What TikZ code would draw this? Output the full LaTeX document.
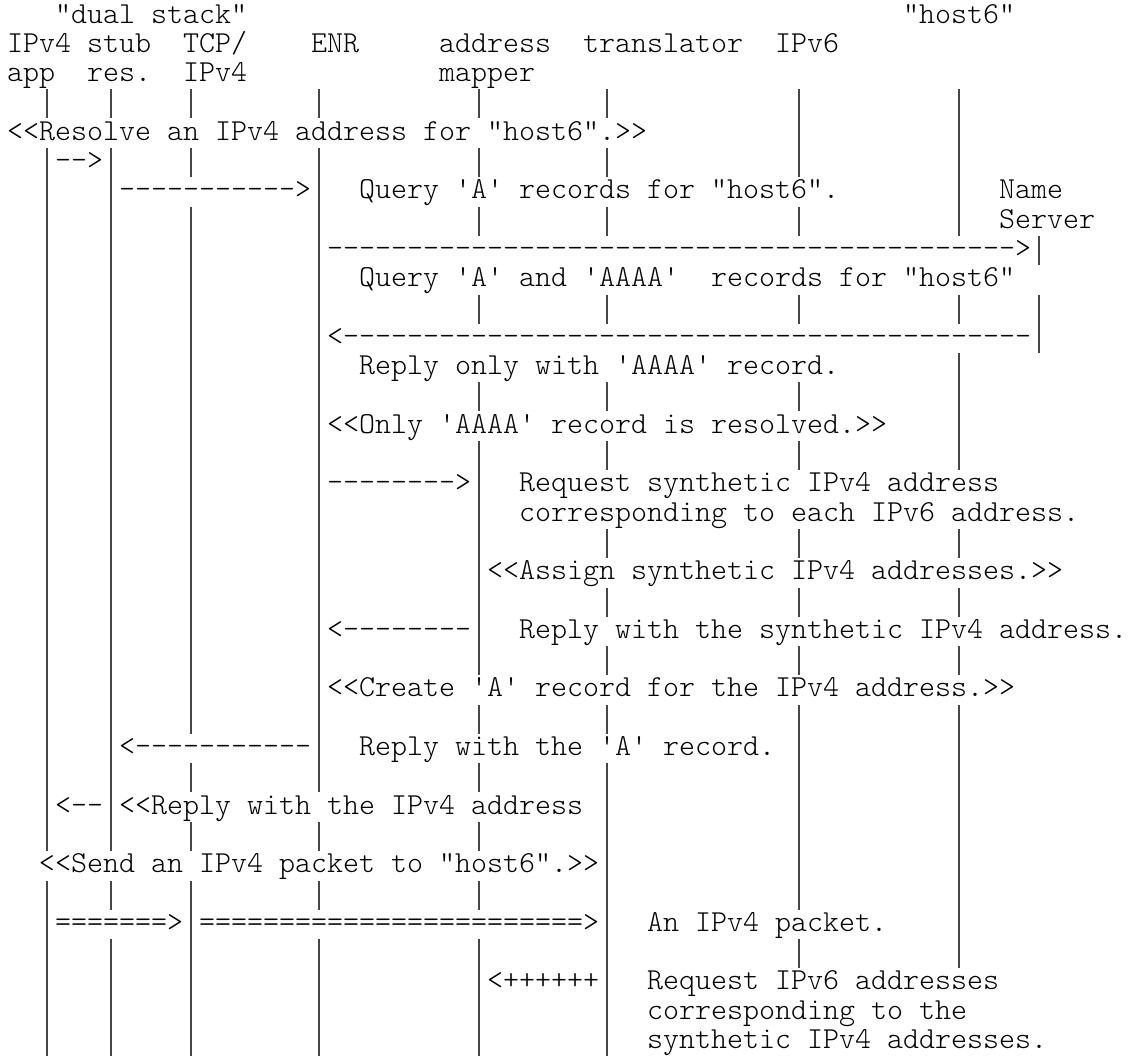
\documentclass[tikz,border=0pt]{standalone}
\usepackage{fontspec}
\newfontfamily\asciifont{lmmonolt10-regular.otf}
\frenchspacing
% grid: column width 16px, row pitch 29.3px, first baseline 23px, left edge 7px
\newcommand\rowtext[3]{\node[txt] (t#1c#2) at ({7+16*#2},{23+29.3*(#1-1)}) {#3};}
\tikzset{
  txt/.style={anchor=base west, inner sep=0pt, outer sep=0pt, text=black,
    font=\asciifont\fontsize{15.24pt}{18pt}\selectfont},
  life/.style={draw=black!72, line width=0.8pt}
}
\begin{document}
\begin{tikzpicture}[x=0.5pt,y=-0.5pt]
\fill[white] (0,0) rectangle (1130,1061);
\useasboundingbox (0,0) rectangle (1130,1061);
% lifelines: column / first row / last row
\foreach \c/\a/\b in {
  2/4/4, 2/6/29, 2/31/36,
  6/4/4, 6/6/29, 6/31/31, 6/33/36,
  11/4/4, 11/6/6, 11/8/25, 11/27/27, 11/29/29, 11/31/36,
  19/4/4, 19/6/27, 19/29/29, 19/31/31, 19/33/36,
  29/4/4, 29/6/6, 29/8/8, 29/11/11, 29/14/14, 29/16/23, 29/25/25, 29/27/27, 29/29/29, 29/31/31, 29/33/36,
  37/4/4, 37/6/6, 37/8/8, 37/11/11, 37/14/14, 37/16/16, 37/19/19, 37/21/21, 37/23/23, 37/25/25, 37/27/36,
  49/4/6, 49/8/8, 49/11/11, 49/14/14, 49/16/16, 49/19/19, 49/21/21, 49/23/23, 49/25/31, 49/33/33,
  59/4/8, 59/11/11, 59/13/16, 59/19/19, 59/21/21, 59/23/23, 59/25/33,
  64/9/9, 64/11/12}
  \draw[life] ({15+16*\c},{23+29.3*(\a-1)-21.5}) -- ({15+16*\c},{23+29.3*(\b-1)+7.5});
% header
\rowtext{1}{3}{"dual stack"}
\rowtext{1}{56}{"host6"}
\rowtext{2}{0}{IPv4}
\rowtext{2}{5}{stub}
\rowtext{2}{11}{TCP/}
\rowtext{2}{19}{ENR}
\rowtext{2}{27}{address}
\rowtext{2}{36}{translator}
\rowtext{2}{48}{IPv6}
\rowtext{3}{0}{app}
\rowtext{3}{5}{res.}
\rowtext{3}{11}{IPv4}
\rowtext{3}{27}{mapper}
% messages
\rowtext{5}{0}{<<Resolve an IPv4 address for "host6".>>}
\rowtext{6}{3}{-->}
\rowtext{7}{7}{----------->}
\rowtext{7}{22}{Query 'A' records for "host6".}
\rowtext{7}{62}{Name}
\rowtext{8}{62}{Server}
\rowtext{9}{20}{------------------------------------------->}
\rowtext{10}{22}{Query 'A' and 'AAAA'~~records for "host6"}
\rowtext{12}{20}{<-------------------------------------------}
\rowtext{13}{22}{Reply only with 'AAAA' record.}
\rowtext{15}{20}{<<Only 'AAAA' record is resolved.>>}
\rowtext{17}{20}{-------->}
\rowtext{17}{32}{Request synthetic IPv4 address}
\rowtext{18}{32}{corresponding to each IPv6 address.}
\rowtext{20}{30}{<<Assign synthetic IPv4 addresses.>>}
\rowtext{22}{20}{<--------}
\rowtext{22}{32}{Reply with the synthetic IPv4 address.}
\rowtext{24}{20}{<<Create 'A' record for the IPv4 address.>>}
\rowtext{26}{7}{<-----------}
\rowtext{26}{22}{Reply with the 'A' record.}
\rowtext{28}{3}{<--}
\rowtext{28}{7}{<<Reply with the IPv4 address}
\rowtext{30}{2}{<<Send an IPv4 packet to "host6".>>}
\rowtext{32}{3}{=======>}
\rowtext{32}{12}{========================>}
\rowtext{32}{40}{An IPv4 packet.}
\rowtext{34}{30}{<++++++}
\rowtext{34}{40}{Request IPv6 addresses}
\rowtext{35}{40}{corresponding to the}
\rowtext{36}{40}{synthetic IPv4 addresses.}
\end{tikzpicture}
\end{document}
